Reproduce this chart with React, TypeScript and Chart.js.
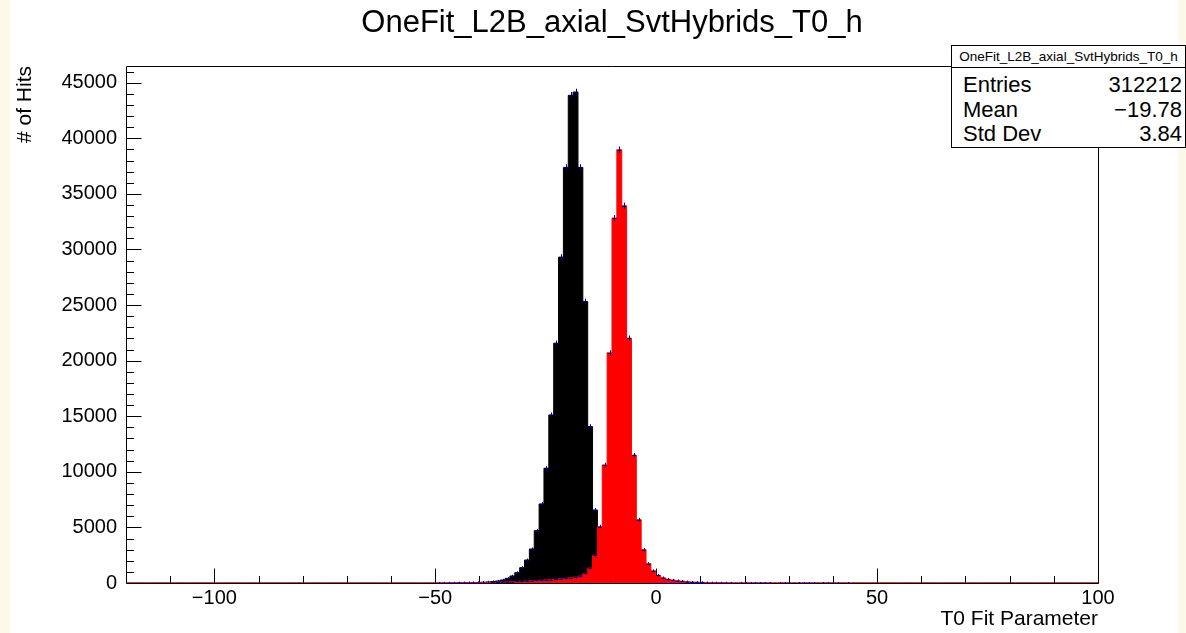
import React, { useEffect, useRef } from 'react';
import { Chart, registerables } from 'chart.js';

Chart.register(...registerables);

// ---------- data ----------
const TITLE = 'OneFit_L2B_axial_SvtHybrids_T0_h';
const X_TITLE = 'T0 Fit Parameter';
const Y_TITLE = '# of Hits';

const BIN_LOW = -120;
const BIN_HIGH = 100;
const N_BINS = 200;
const Y_MAX = 46500;

const X_TICKS = [-100, -50, 0, 50, 100];
const X_MINOR_TICKS = [-110, -90, -80, -70, -60, -40, -30, -20, -10, 10, 20, 30, 40, 60, 70, 80, 90];
const Y_TICKS = [0, 5000, 10000, 15000, 20000, 25000, 30000, 35000, 40000, 45000];
const Y_MINOR_STEP = 1000;

// black histogram (main), counts starting at bin index BLACK_FIRST_BIN
const BLACK_FIRST_BIN = 64;
const blackCounts = [
  3, 4, 6, 9, 13, 18, 25, 35, 50, 70, 95, 130, 180, 270, 420, 630, 930, 1380, 2070, 3060,
  4710, 7110, 10320, 15120, 21570, 29310, 37380, 43860, 44160, 37380, 25320, 14070, 6570, 3000,
  1400, 700, 400, 280, 200, 150, 110, 80, 60, 45, 35, 28, 22, 18, 14, 11, 9, 7, 5, 4, 3, 2, 2, 1, 1,
];

// red histogram (overlay), counts starting at bin index RED_FIRST_BIN
const RED_FIRST_BIN = 64;
const redCounts = [
  2, 3, 4, 6, 8, 10, 14, 18, 24, 30, 40, 55, 70, 85, 100, 120, 140, 160, 180, 200,
  225, 250, 280, 310, 340, 380, 420, 470, 530, 620, 870, 1350, 2500, 5070, 10620, 20700,
  32820, 38970, 33930, 22020, 11500, 5700, 3000, 1740, 1100, 690, 470, 350, 270, 210,
  160, 120, 90, 70, 55, 40, 30, 22, 16, 12, 8, 0, 5, 4, 3, 3, 2, 2, 2, 0, 1, 1, 1, 0,
  1, 1, 1, 1, 0, 1, 1, 1, 1, 0, 1,
];

const STATS_LABELS = ['Entries', 'Mean', 'Std Dev'];
const STATS_VALUES = ['312212', '\u221219.78', '3.84'];

// ---------- styling ----------
const FONT = "'Liberation Sans', Arial, Helvetica, sans-serif";
const CREAM = '#fdf9ea';
const NAVY = '#000080';
const PAGE_LEFT = 10;
const CANVAS_W = 1168;
const CANVAS_H = 633;

const binWidth = (BIN_HIGH - BIN_LOW) / N_BINS;
const edge = (k: number) => BIN_LOW + k * binWidth;

function fullBins(first: number, counts: number[]) {
  const arr = new Array(N_BINS).fill(0);
  counts.forEach((c, i) => {
    arr[first + i] = c;
  });
  return arr;
}

function stepPoints(bins: number[]) {
  const pts = bins.map((c, k) => ({ x: edge(k), y: c }));
  pts.push({ x: BIN_HIGH, y: 0 });
  return pts;
}

const minusFmt = (v: number) => (v < 0 ? '\u2212' + Math.abs(v) : String(v));

export default function App() {
  const ref = useRef<HTMLCanvasElement | null>(null);

  useEffect(() => {
    const canvas = ref.current;
    if (!canvas) return;
    const blackBins = fullBins(BLACK_FIRST_BIN, blackCounts);
    const redBins = fullBins(RED_FIRST_BIN, redCounts);
    const histBins = [redBins, blackBins];

    const framePlugin = {
      id: 'rootFrame',
      beforeDatasetsDraw(chart: any) {
        const { ctx, chartArea: a, scales } = chart;
        const x = scales.x;
        const y = scales.y;
        ctx.save();
        ctx.strokeStyle = '#000';
        ctx.lineWidth = 1;
        const L = Math.round(a.left) + 0.5;
        const R = Math.round(a.right) + 0.5;
        const T = Math.round(a.top) + 0.5;
        const B = Math.round(a.bottom) + 0.5;
        ctx.beginPath();
        ctx.rect(L, T, R - L, B - T);
        for (const v of Y_TICKS) {
          const py = Math.round(y.getPixelForValue(v)) + 0.5;
          ctx.moveTo(L, py);
          ctx.lineTo(L + 15, py);
        }
        for (let v = 0; v <= Y_MAX; v += Y_MINOR_STEP) {
          if (Y_TICKS.includes(v)) continue;
          const py = Math.round(y.getPixelForValue(v)) + 0.5;
          ctx.moveTo(L, py);
          ctx.lineTo(L + 7.5, py);
        }
        for (const v of X_TICKS) {
          const px = Math.round(x.getPixelForValue(v)) + 0.5;
          ctx.moveTo(px, B);
          ctx.lineTo(px, B - 15);
        }
        for (const v of X_MINOR_TICKS) {
          const px = Math.round(x.getPixelForValue(v)) + 0.5;
          ctx.moveTo(px, B);
          ctx.lineTo(px, B - 7.5);
        }
        ctx.stroke();
        ctx.restore();
      },
    };

    const errPlugin = {
      id: 'rootErrors',
      afterDatasetDraw(chart: any, args: any) {
        const bins = histBins[args.index];
        if (!bins) return;
        const { ctx, chartArea: a, scales } = chart;
        const x = scales.x;
        const y = scales.y;
        ctx.save();
        ctx.beginPath();
        ctx.rect(a.left, a.top - 1, a.right - a.left, a.bottom - a.top + 2);
        ctx.clip();
        ctx.strokeStyle = NAVY;
        ctx.lineWidth = 1;
        ctx.beginPath();
        bins.forEach((c: number, k: number) => {
          if (c <= 0) return;
          const xl = x.getPixelForValue(edge(k));
          const xr = x.getPixelForValue(edge(k + 1));
          const xc = Math.round((xl + xr) / 2) + 0.5;
          const yc = Math.round(y.getPixelForValue(c)) + 0.5;
          const e = Math.sqrt(c);
          ctx.moveTo(xl + 0.5, yc);
          ctx.lineTo(xr - 0.5, yc);
          ctx.moveTo(xc, y.getPixelForValue(c + e) - 1);
          ctx.lineTo(xc, y.getPixelForValue(Math.max(0, c - e)) + 1);
        });
        ctx.stroke();
        ctx.restore();
      },
    };

    const chart = new Chart(canvas, {
      type: 'line',
      data: {
        datasets: [
          {
            label: 'red',
            data: stepPoints(redBins),
            stepped: 'before',
            fill: 'origin',
            backgroundColor: '#ff0000',
            borderColor: '#ff0000',
            borderWidth: 1,
            pointRadius: 0,
            order: 0,
          },
          {
            label: 'black',
            data: stepPoints(blackBins),
            stepped: 'before',
            fill: 'origin',
            backgroundColor: '#000000',
            borderColor: '#000000',
            borderWidth: 1,
            pointRadius: 0,
            order: 1,
          },
        ],
      } as any,
      options: {
        animation: false,
        responsive: false,
        maintainAspectRatio: false,
        events: [],
        layout: { padding: { left: 0, right: 80, top: 0, bottom: 0 } },
        plugins: {
          legend: { display: false },
          tooltip: { enabled: false },
          title: {
            display: true,
            fullSize: false,
            text: TITLE,
            color: '#000',
            font: { family: FONT, size: 31, weight: 'normal', lineHeight: 1.2 },
            padding: { top: 5, bottom: 23.8 },
          },
        },
        scales: {
          x: {
            type: 'linear',
            min: BIN_LOW,
            max: BIN_HIGH,
            afterBuildTicks: (s: any) => {
              s.ticks = X_TICKS.map((v) => ({ value: v }));
            },
            afterFit: (s: any) => {
              s.height = 50;
            },
            grid: { display: false, drawTicks: false },
            border: { display: false },
            ticks: {
              color: '#000',
              font: { family: FONT, size: 20 },
              padding: 3,
              maxRotation: 0,
              minRotation: 0,
              autoSkip: false,
              callback: (v: any) => minusFmt(Number(v)),
            },
            title: {
              display: true,
              text: X_TITLE,
              align: 'end',
              color: '#000',
              font: { family: FONT, size: 21, lineHeight: 1.2 },
              padding: { top: 0, bottom: 1 },
            },
          },
          y: {
            type: 'linear',
            min: 0,
            max: Y_MAX,
            afterBuildTicks: (s: any) => {
              s.ticks = Y_TICKS.map((v) => ({ value: v }));
            },
            afterFit: (s: any) => {
              s.width = 116;
            },
            grid: { display: false, drawTicks: false },
            border: { display: false },
            ticks: {
              color: '#000',
              font: { family: FONT, size: 20 },
              padding: 9,
              autoSkip: false,
              callback: (v: any) => String(v),
            },
            title: {
              display: true,
              text: Y_TITLE,
              align: 'end',
              color: '#000',
              font: { family: FONT, size: 21, lineHeight: 1.2 },
              padding: { top: 2.4, bottom: 0 },
            },
          },
        },
      } as any,
      plugins: [framePlugin, errPlugin],
    });
    return () => chart.destroy();
  }, []);

  return (
    <div
      style={{
        position: 'fixed',
        left: 0,
        top: 0,
        width: 1186,
        height: 633,
        background: CREAM,
        overflow: 'hidden',
      }}
    >
      <div
        style={{
          position: 'absolute',
          left: PAGE_LEFT,
          top: 0,
          width: CANVAS_W,
          height: CANVAS_H,
          background: '#fff',
        }}
      >
        <canvas
          ref={ref}
          width={CANVAS_W}
          height={CANVAS_H}
          style={{ display: 'block', width: CANVAS_W, height: CANVAS_H }}
        />
      </div>
      <div
        style={{
          position: 'absolute',
          left: 951,
          top: 45,
          width: 235,
          height: 103,
          border: '1px solid #000',
          boxSizing: 'border-box',
          background: '#fff',
          fontFamily: FONT,
          color: '#000',
        }}
      >
        <div
          style={{
            height: 21,
            borderBottom: '1px solid #000',
            fontSize: 13.5,
            lineHeight: '21px',
            textAlign: 'center',
            whiteSpace: 'nowrap',
          }}
        >
          {TITLE}
        </div>
        <div style={{ paddingTop: 5 }}>
          {STATS_LABELS.map((lab, i) => (
            <div
              key={lab}
              style={{
                display: 'flex',
                justifyContent: 'space-between',
                height: 24.5,
                lineHeight: '24.5px',
                fontSize: 22,
                padding: '0 3px 0 11px',
                whiteSpace: 'nowrap',
              }}
            >
              <span>{lab}</span>
              <span>{STATS_VALUES[i]}</span>
            </div>
          ))}
        </div>
      </div>
    </div>
  );
}
